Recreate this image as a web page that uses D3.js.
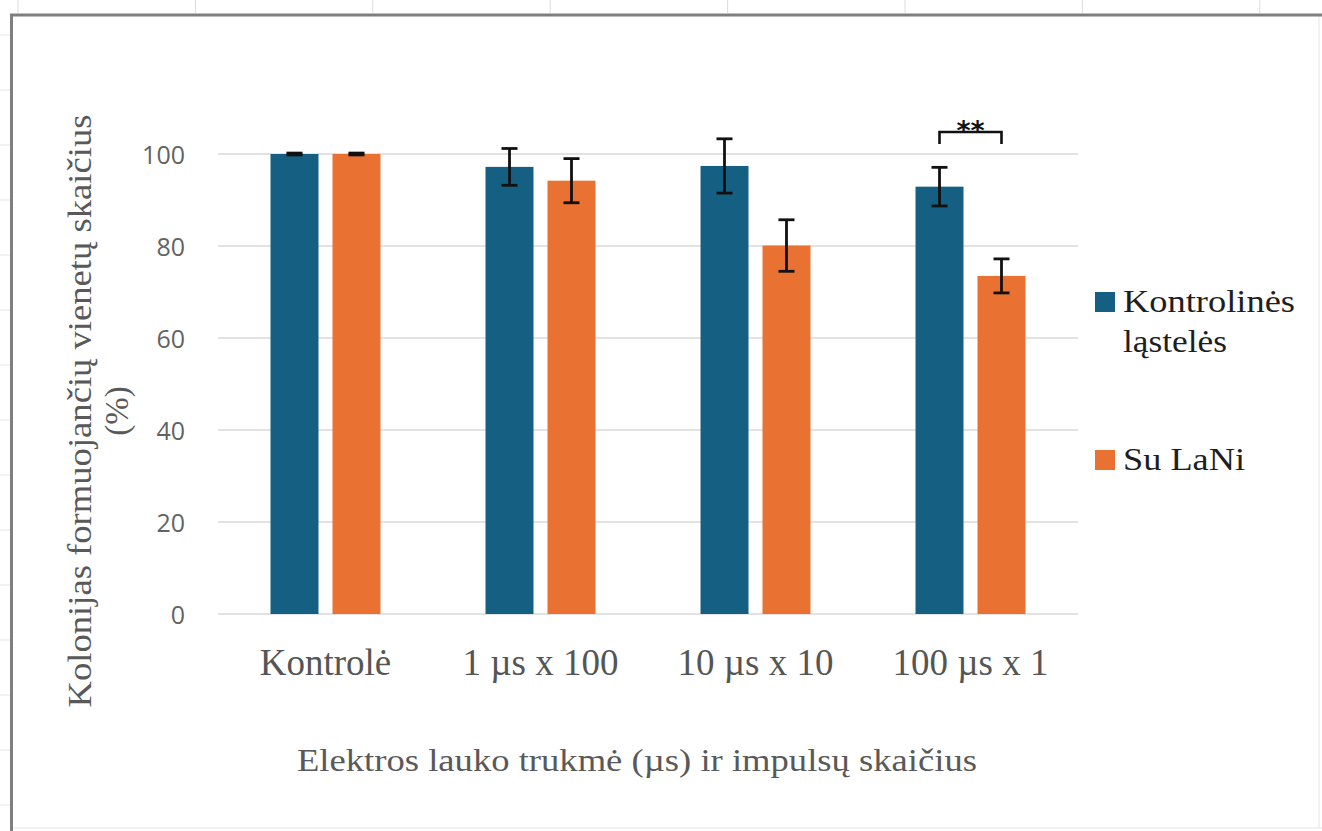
<!DOCTYPE html>
<html>
<head>
<meta charset="utf-8">
<script src="https://cdn.jsdelivr.net/npm/d3@7"></script>
<style>
  html, body { margin: 0; padding: 0; background: #fff; }
  svg { display: block; }
</style>
</head>
<body>
<svg id="chart" width="1322" height="831"></svg>
<script>
// ---- data ----
const categories = ["Kontrolė", "1 µs x 100", "10 µs x 10", "100 µs x 1"];
const seriesNames = ["Kontrolinės ląstelės", "Su LaNi"];
const controlValues = [100, 97.2, 97.4, 92.9];
const controlErrors = [0.2, 4.0, 5.9, 4.2];
const laniValues = [100, 94.2, 80.1, 73.5];
const laniErrors = [0.2, 4.8, 5.6, 3.7];
const yTicks = [0, 20, 40, 60, 80, 100];
const significance = [{ category: "100 µs x 1", label: "**" }];
const legendLines = [["Kontrolinės", "ląstelės"], ["Su LaNi"]];

const colors = ["#156082", "#E97132"];
const seriesValues = [controlValues, laniValues];
const seriesErrors = [controlErrors, laniErrors];

const svg = d3.select("#chart");

// ---- background frame (spreadsheet look) ----
const bg = svg.append("g");
d3.range(18, 1322, 177.4).forEach(x => {
  bg.append("line").attr("x1", x).attr("x2", x).attr("y1", 0).attr("y2", 13)
    .attr("stroke", "#dcdcdc").attr("stroke-width", 1);
});
d3.range(35, 831, 55).forEach(yy => {
  bg.append("line").attr("x1", 0).attr("x2", 10).attr("y1", yy).attr("y2", yy)
    .attr("stroke", "#e4e4e4").attr("stroke-width", 1);
});
bg.append("line").attr("x1", 1319).attr("x2", 1319).attr("y1", 14).attr("y2", 828)
  .attr("stroke", "#eeeeee").attr("stroke-width", 1.5);
bg.append("line").attr("x1", 11).attr("x2", 1322).attr("y1", 828).attr("y2", 828)
  .attr("stroke", "#eeeeee").attr("stroke-width", 1.5);
bg.append("line").attr("x1", 10).attr("x2", 1322).attr("y1", 15).attr("y2", 15)
  .attr("stroke", "#7f7f7f").attr("stroke-width", 3);
bg.append("line").attr("x1", 11.5).attr("x2", 11.5).attr("y1", 14).attr("y2", 831)
  .attr("stroke", "#7f7f7f").attr("stroke-width", 3);

// ---- scales ----
const x0 = d3.scaleBand().domain(categories).range([218, 1078]).padding(0);
const x1 = d3.scaleBand().domain(seriesNames).range([0, x0.bandwidth()])
  .paddingInner(0.226).paddingOuter(0.847);
const y = d3.scaleLinear().domain([0, 100]).range([614, 154]);

// ---- gridlines ----
svg.append("g").selectAll("line").data(yTicks).join("line")
  .attr("x1", 218).attr("x2", 1078)
  .attr("y1", d => y(d)).attr("y2", d => y(d))
  .attr("stroke", "#d9d9d9").attr("stroke-width", 1.5);

// ---- y axis labels ----
const yAxis = d3.axisLeft(y).tickValues(yTicks).tickSize(0).tickPadding(0);
const yg = svg.append("g").attr("transform", "translate(185,0)").call(yAxis);
yg.select(".domain").remove();
yg.selectAll("text")
  .attr("font-family", "'Open Sans', sans-serif")
  .attr("font-size", 25)
  .attr("fill", "#636363")
  .attr("dy", "0.36em");

// ---- x axis labels ----
const xAxis = d3.axisBottom(x0).tickSize(0).tickPadding(0);
const xg = svg.append("g").attr("transform", "translate(0,614)").call(xAxis);
xg.select(".domain").remove();
xg.selectAll("text")
  .attr("font-family", "'Liberation Serif', 'Times New Roman', serif")
  .attr("font-size", 37)
  .attr("fill", "#555555")
  .attr("dy", 0)
  .attr("y", 61);

// ---- bars ----
const groups = svg.append("g").selectAll("g").data(categories).join("g")
  .attr("transform", d => `translate(${x0(d)},0)`);

groups.each(function (cat, ci) {
  const g = d3.select(this);
  seriesNames.forEach((s, si) => {
    const v = seriesValues[si][ci];
    g.append("rect")
      .attr("x", x1(s)).attr("width", x1.bandwidth())
      .attr("y", y(v)).attr("height", y(0) - y(v))
      .attr("fill", colors[si]);
  });
  seriesNames.forEach((s, si) => {
    const v = seriesValues[si][ci];
    const e = seriesErrors[si][ci];
    const cx = x1(s) + x1.bandwidth() / 2;
    const eb = g.append("g").attr("stroke", "#111").attr("stroke-width", 2.8);
    eb.append("line").attr("x1", cx).attr("x2", cx).attr("y1", y(v + e)).attr("y2", y(v - e));
    eb.append("line").attr("x1", cx - 8).attr("x2", cx + 8).attr("y1", y(v + e)).attr("y2", y(v + e));
    eb.append("line").attr("x1", cx - 8).attr("x2", cx + 8).attr("y1", y(v - e)).attr("y2", y(v - e));
  });
});

// ---- significance bracket ----
significance.forEach(sig => {
  const xa = x0(sig.category) + x1(seriesNames[0]) + x1.bandwidth() / 2;
  const xb = x0(sig.category) + x1(seriesNames[1]) + x1.bandwidth() / 2;
  const yTop = y(100) - 22;
  const yLeg = y(100) - 10;
  svg.append("path")
    .attr("d", `M${xa},${yLeg}V${yTop}H${xb}V${yLeg}`)
    .attr("fill", "none").attr("stroke", "#111").attr("stroke-width", 2.6);
  svg.append("text")
    .attr("x", (xa + xb) / 2).attr("y", yTop + 8)
    .attr("text-anchor", "middle")
    .attr("font-family", "'DejaVu Sans', sans-serif")
    .attr("font-weight", "bold")
    .attr("font-size", 27)
    .attr("fill", "#111")
    .text(sig.label);
});

// ---- axis titles ----
svg.append("text")
  .attr("x", 637).attr("y", 771)
  .attr("text-anchor", "middle")
  .attr("font-family", "'Liberation Serif', 'Times New Roman', serif")
  .attr("font-size", 31)
  .attr("fill", "#595959")
  .attr("textLength", 680)
  .attr("lengthAdjust", "spacingAndGlyphs")
  .text("Elektros lauko trukmė (µs) ir impulsų skaičius");

const yt = svg.append("text")
  .attr("transform", "translate(0,411) rotate(-90)")
  .attr("text-anchor", "middle")
  .attr("font-family", "'Liberation Serif', 'Times New Roman', serif")
  .attr("font-size", 33)
  .attr("fill", "#595959");
yt.append("tspan").attr("x", 0).attr("y", 91)
  .attr("textLength", 593).attr("lengthAdjust", "spacingAndGlyphs")
  .text("Kolonijas formuojančių vienetų skaičius");
yt.append("tspan").attr("x", 0).attr("y", 128).text("(%)");

// ---- legend ----
const legend = svg.append("g");
const legendTop = [292, 450];
const lineWidths = [[172, 104], [122]];
seriesNames.forEach((s, i) => {
  legend.append("rect")
    .attr("x", 1095).attr("y", legendTop[i]).attr("width", 20).attr("height", 20)
    .attr("fill", colors[i]);
  legendLines[i].forEach((ln, j) => {
    legend.append("text")
      .attr("x", 1123).attr("y", legendTop[i] + 20 + j * 40)
      .attr("font-family", "'Liberation Serif', 'Times New Roman', serif")
      .attr("font-size", 31)
      .attr("fill", "#1e1e1e")
      .attr("textLength", lineWidths[i][j])
      .attr("lengthAdjust", "spacingAndGlyphs")
      .text(ln);
  });
});
</script>
</body>
</html>
